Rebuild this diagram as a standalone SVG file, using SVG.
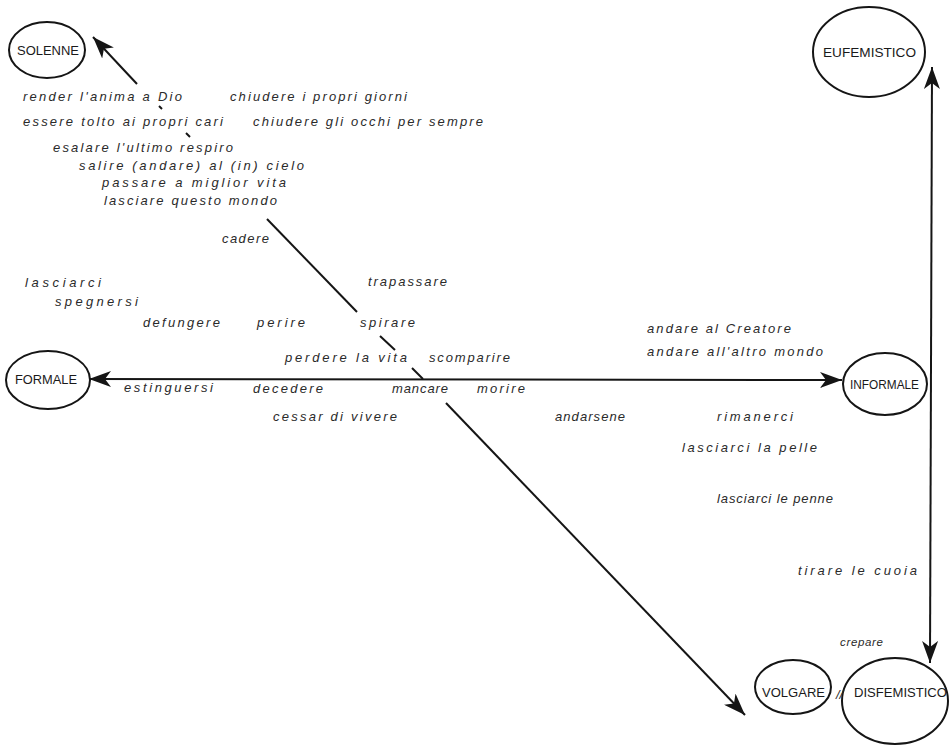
<svg xmlns="http://www.w3.org/2000/svg" width="949" height="745" viewBox="0 0 949 745">
<style>
.bg{fill:#fff}
.node ellipse{fill:none;stroke:#151515;stroke-width:2}
.node text{font-family:"Liberation Sans",Arial,sans-serif;font-size:13.5px;fill:#1a1a1a;text-anchor:start}
.conn line{stroke:#151515;stroke-width:2;fill:none}
.t{font-family:"Liberation Sans",Arial,sans-serif;font-style:italic;font-size:13px;fill:#2a2a2a}
.s{font-size:11.5px}
</style>
<defs>
<marker id="ah" viewBox="0 0 22 16" refX="22" refY="8" markerWidth="22" markerHeight="16" markerUnits="userSpaceOnUse" orient="auto-start-reverse">
<path d="M0,0 L22,8 L0,16 L6,8 Z" fill="#151515"/>
</marker>
</defs>
<rect class="bg" x="0" y="0" width="949" height="745"/>
<g id="connectors" class="conn">
<line x1="89" y1="379" x2="842" y2="380" marker-start="url(#ah)" marker-end="url(#ah)"/>
<line x1="932" y1="67" x2="930" y2="663" marker-start="url(#ah)" marker-end="url(#ah)"/>
<line x1="93" y1="37" x2="137" y2="84" marker-start="url(#ah)"/>
<line x1="159" y1="106" x2="162" y2="109"/>
<line x1="186" y1="133" x2="190" y2="137"/>
<line x1="267" y1="219" x2="357" y2="312"/>
<line x1="380" y1="336" x2="395" y2="350"/>
<line x1="412" y1="368" x2="423" y2="379"/>
<line x1="446" y1="403" x2="745" y2="715" marker-end="url(#ah)"/>
</g>
<g id="solenne" class="node">
<ellipse cx="47" cy="50" rx="38" ry="28"/>
<text x="17" y="55" textLength="62" lengthAdjust="spacingAndGlyphs">SOLENNE</text>
</g>
<g id="formale" class="node">
<ellipse cx="48" cy="380" rx="42" ry="29"/>
<text x="15" y="384" textLength="62" lengthAdjust="spacingAndGlyphs">FORMALE</text>
</g>
<g id="informale" class="node">
<ellipse cx="885" cy="384" rx="42" ry="31"/>
<text x="850" y="389" textLength="69" lengthAdjust="spacingAndGlyphs">INFORMALE</text>
</g>
<g id="eufemistico" class="node">
<ellipse cx="869" cy="52" rx="56" ry="45"/>
<text x="823" y="57" textLength="93" lengthAdjust="spacingAndGlyphs">EUFEMISTICO</text>
</g>
<g id="volgare" class="node">
<ellipse cx="793" cy="687" rx="38" ry="27"/>
<text x="762" y="697" textLength="63" lengthAdjust="spacingAndGlyphs">VOLGARE</text>
</g>
<g id="disfemistico" class="node">
<ellipse cx="895" cy="701" rx="53" ry="43"/>
<text x="854" y="697" textLength="93" lengthAdjust="spacingAndGlyphs">DISFEMISTICO</text>
</g>
<g id="sep">
<text class="t" x="836" y="699" font-size="12">//</text>
</g>
<g id="labels">
<text class="t" x="23" y="101" textLength="159" lengthAdjust="spacing">render l'anima a Dio</text>
<text class="t" x="230" y="101" textLength="177" lengthAdjust="spacing">chiudere i propri giorni</text>
<text class="t" x="23" y="126" textLength="200" lengthAdjust="spacing">essere tolto ai propri cari</text>
<text class="t" x="253" y="126" textLength="230" lengthAdjust="spacing">chiudere gli occhi per sempre</text>
<text class="t" x="53" y="152" textLength="180" lengthAdjust="spacing">esalare l'ultimo respiro</text>
<text class="t" x="79" y="170" textLength="225" lengthAdjust="spacing">salire (andare) al (in) cielo</text>
<text class="t" x="102" y="187" textLength="184" lengthAdjust="spacing">passare a miglior vita</text>
<text class="t" x="104" y="205" textLength="173" lengthAdjust="spacing">lasciare questo mondo</text>
<text class="t" x="222" y="243" textLength="47" lengthAdjust="spacing">cadere</text>
<text class="t" x="25" y="287" textLength="76" lengthAdjust="spacing">lasciarci</text>
<text class="t" x="55" y="306" textLength="83" lengthAdjust="spacing">spegnersi</text>
<text class="t" x="143" y="327" textLength="77" lengthAdjust="spacing">defungere</text>
<text class="t" x="257" y="327" textLength="48" lengthAdjust="spacing">perire</text>
<text class="t" x="360" y="327" textLength="55" lengthAdjust="spacing">spirare</text>
<text class="t" x="368" y="286" textLength="79" lengthAdjust="spacing">trapassare</text>
<text class="t" x="285" y="362" textLength="122" lengthAdjust="spacing">perdere la vita</text>
<text class="t" x="429" y="362" textLength="81" lengthAdjust="spacing">scomparire</text>
<text class="t" x="124" y="392" textLength="89" lengthAdjust="spacing">estinguersi</text>
<text class="t" x="253" y="393" textLength="70" lengthAdjust="spacing">decedere</text>
<text class="t" x="392" y="393" textLength="56" lengthAdjust="spacing">mancare</text>
<text class="t" x="477" y="393" textLength="48" lengthAdjust="spacing">morire</text>
<text class="t" x="273" y="421" textLength="124" lengthAdjust="spacing">cessar di vivere</text>
<text class="t" x="647" y="333" textLength="144" lengthAdjust="spacing">andare al Creatore</text>
<text class="t" x="647" y="356" textLength="176" lengthAdjust="spacing">andare all'altro mondo</text>
<text class="t" x="555" y="421" textLength="70" lengthAdjust="spacing">andarsene</text>
<text class="t" x="717" y="421" textLength="76" lengthAdjust="spacing">rimanerci</text>
<text class="t" x="682" y="452" textLength="135" lengthAdjust="spacing">lasciarci la pelle</text>
<text class="t" x="717" y="503" textLength="116" lengthAdjust="spacing">lasciarci le penne</text>
<text class="t" x="798" y="575" textLength="119" lengthAdjust="spacing">tirare le cuoia</text>
<text class="t s" x="840" y="646" textLength="43" lengthAdjust="spacing">crepare</text>
</g>
</svg>
